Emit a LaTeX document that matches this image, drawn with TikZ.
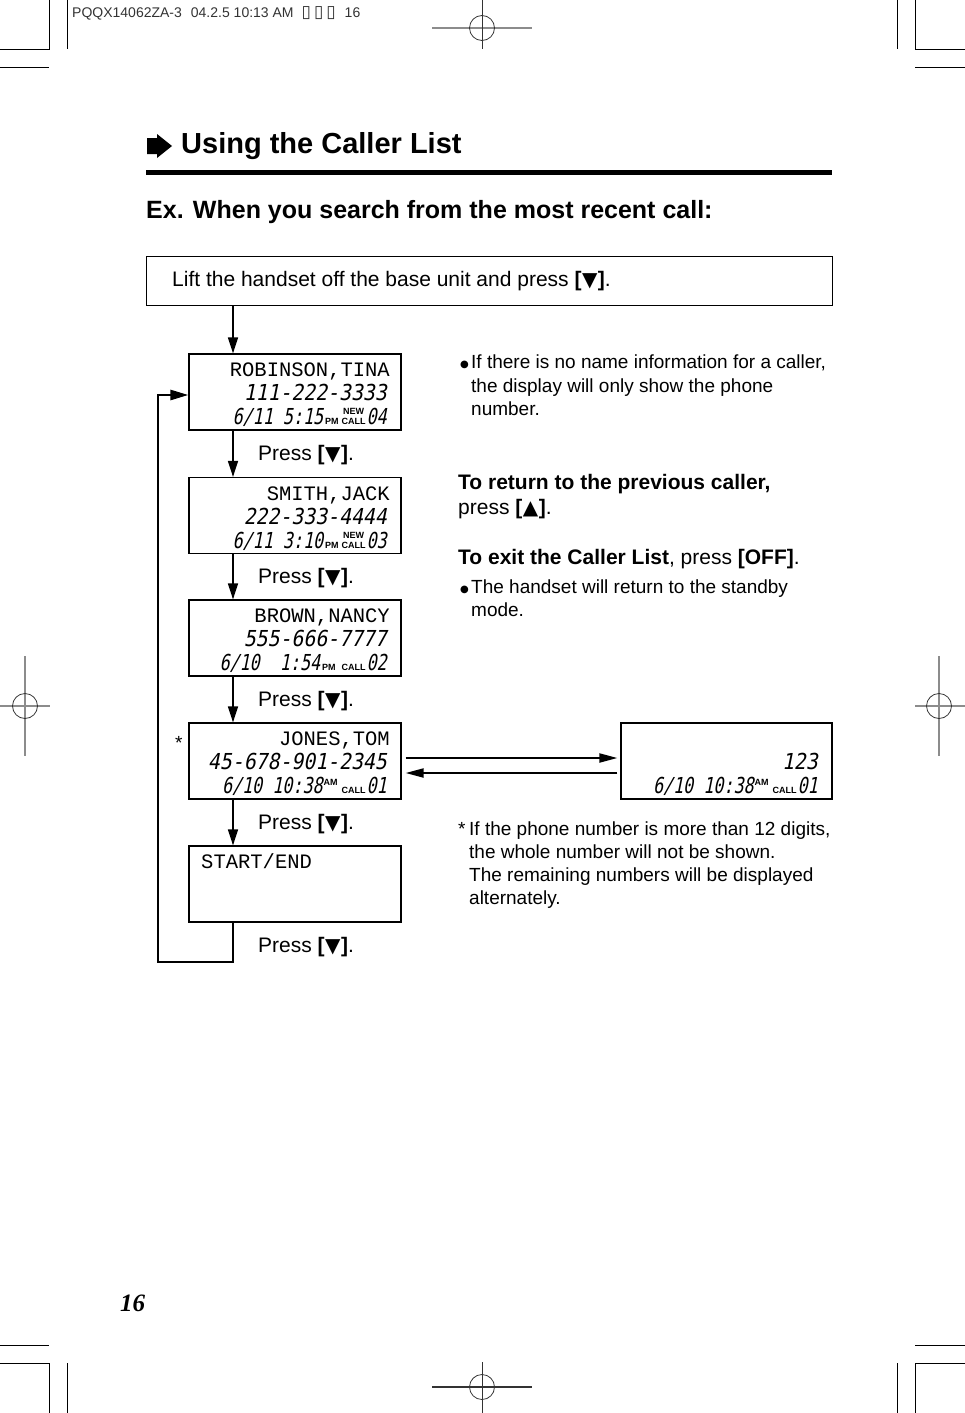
\documentclass[tikz,border=0pt]{standalone}
\usepackage{fontspec}
\setmainfont{Liberation Sans}
\newfontfamily\lcdmono{Liberation Mono}
\newfontfamily\segfont[FakeStretch=0.9,FakeSlant=0.2]{DejaVu Sans Mono}
\newfontfamily\segfontc[FakeStretch=0.76,FakeSlant=0.2]{DejaVu Sans Mono}
\newfontfamily\symfont{DejaVu Sans}
\newfontfamily\pnfont{Liberation Serif}
\usetikzlibrary{arrows.meta}
\newcommand\kdn{\textbf{[}\hspace{0.5pt}{\symfont\fontsize{20}{20}\selectfont\raisebox{-0.5pt}{▼}}\hspace{0.5pt}\textbf{]}}
\newcommand\kup{\textbf{[}\hspace{0.5pt}{\symfont\fontsize{20}{20}\selectfont\raisebox{-0.5pt}{▲}}\hspace{0.5pt}\textbf{]}}
\newcommand\segtxt[1]{{\segfont\fontsize{22}{22}\selectfont #1}}
\newcommand\segc[1]{{\segfontc\fontsize{22}{22}\selectfont #1}}
\newcommand\tlab[1]{{\bfseries\fontsize{9}{9}\selectfont #1}}
\newcommand\nwcall{\shortstack{\tlab{NEW}\\\tlab{CALL}}}
\newcommand\bul{{\symfont\fontsize{10}{10}\selectfont\raisebox{1pt}{●}}}
\begin{document}
\begin{tikzpicture}[x=1pt,y=-1pt,
 crop/.style={line width=0.8pt},
 regl/.style={line width=1.3pt, black!45},
 regd/.style={line width=0.8pt, black!80},
 lcd/.style={draw, line width=1.2pt, minimum width=212pt, minimum height=76pt, inner sep=0pt},
 tx/.style={inner sep=0pt, anchor=base west},
 body/.style={tx, font=\fontsize{19}{23}\selectfont},
 big/.style={tx, font=\fontsize{21}{25}\selectfont},
 bigb/.style={tx, font=\bfseries\fontsize{21}{25}\selectfont},
 nm/.style={inner sep=0pt, anchor=base east, font=\lcdmono\fontsize{20.5}{20.5}\selectfont},
 nmw/.style={inner sep=0pt, anchor=base west, font=\lcdmono\fontsize{20.5}{20.5}\selectfont},
 sg/.style={inner sep=0pt, anchor=base east},
 arr/.style={line width=1.5pt, -{Triangle[length=16pt,width=10pt]}},
 harr/.style={line width=2pt, -{Triangle[length=18pt,width=9pt]}},
 loopl/.style={line width=2.6pt, -{Triangle[length=18pt,width=10pt]}},
]
\useasboundingbox (0,0) rectangle (965,1413);

% crop marks
\draw[crop] (49,0) -- (49,49) -- (0,49);
\draw[crop] (67,0) -- (67,49);
\draw[crop] (0,67) -- (49,67);
\draw[crop] (915,0) -- (915,49) -- (965,49);
\draw[crop] (897,0) -- (897,49);
\draw[crop] (915,67) -- (965,67);
\draw[crop] (0,1363) -- (49,1363) -- (49,1413);
\draw[crop] (67,1363) -- (67,1413);
\draw[crop] (0,1345) -- (49,1345);
\draw[crop] (965,1363) -- (915,1363) -- (915,1413);
\draw[crop] (897,1363) -- (897,1413);
\draw[crop] (915,1345) -- (965,1345);

% registration marks
\draw[regl] (432,28) -- (532,28);
\draw[regd] (482,0) -- (482,49);
\draw[regd] (482,28) circle (12.5);
\draw[regl] (25,656) -- (25,756);
\draw[regl] (0,706) -- (50,706);
\draw[regd] (25,706) circle (12.5);
\draw[regl] (939,656) -- (939,756);
\draw[regl] (915,706) -- (965,706);
\draw[regd] (939,706) circle (12.5);
\draw[regd, line width=1.1pt] (432,1387) -- (532,1387);
\draw[regd] (482,1362) -- (482,1413);
\draw[regd] (482,1387) circle (12.5);

% header
\node[tx, font=\fontsize{14}{14}\selectfont, text=black!80] (hdr) at (72,18)
  {PQQX14062ZA-3\hspace{9pt}04.2.5 10:13 AM\hspace{8pt}{\symfont\fontsize{17}{17}\selectfont ▯\hspace{3pt}▯\hspace{3pt}▯}\hspace{9pt}16};

% title
\fill (147,138) -- (157,138) -- (157,134) -- (172,146) -- (157,158) -- (157,154) -- (147,154) -- cycle;
\node[tx, font=\bfseries\fontsize{29}{29}\selectfont] (title) at (181,153) {Using the Caller List};
\fill (146,170) rectangle (832,175);
\node[tx, font=\bfseries\fontsize{25}{25}\selectfont] (ex) at (146,218) {Ex. When you search from the most recent call:};

% top box
\node[draw, line width=1.2pt, anchor=north west, minimum width=686pt, minimum height=49pt, inner sep=0pt] (top) at (146,256) {};
\node[big] (toptx) at (172,286) {Lift the handset off the base unit and press \kdn.};

% LCD boxes
\node[lcd] (b1) at (295,392) {};
\node[lcd] (b2) at (295,515.5) {};
\node[lcd] (b3) at (295,638) {};
\node[lcd] (b4) at (295,761) {};
\node[lcd] (b5) at (295,884) {};
\node[lcd, minimum width=211pt] (br) at (726.5,761) {};

\node[nm] (b1n) at (390,376) {ROBINSON,TINA};
\node[sg] (b1d) at (387,400) {\segtxt{111-222-3333}};
\node[sg] (b1t) at (387,424) {\segc{6/11 5:15}\hspace{2pt}\tlab{PM}\hspace{3pt}\nwcall\hspace{1pt}\segc{04}};

\node[nm] (b2n) at (390,500) {SMITH,JACK};
\node[sg] (b2d) at (387,524) {\segtxt{222-333-4444}};
\node[sg] (b2t) at (387,548) {\segc{6/11 3:10}\hspace{2pt}\tlab{PM}\hspace{3pt}\nwcall\hspace{1pt}\segc{03}};

\node[nm] (b3n) at (390,622) {BROWN,NANCY};
\node[sg] (b3d) at (387,646) {\segtxt{555-666-7777}};
\node[sg] (b3t) at (387,670) {\segc{6/10\ \ 1:54}\hspace{2pt}\tlab{PM}\hspace{6pt}\tlab{CALL}\hspace{1pt}\segc{02}};

\node[nm] (b4n) at (390,745) {JONES,TOM};
\node[sg] (b4d) at (387,769) {\segtxt{45-678-901-2345}};
\node[sg] (b4t) at (387,793) {\segc{6/10 10:38}\hspace{1pt}\raisebox{8pt}{\tlab{AM}}\hspace{4pt}\tlab{CALL}\hspace{1pt}\segc{01}};

\node[nmw] (b5n) at (201,868) {START/END};

\node[sg] (brd) at (818,769) {\segtxt{123}};
\node[sg] (brt) at (818,793) {\segc{6/10 10:38}\hspace{1pt}\raisebox{8pt}{\tlab{AM}}\hspace{4pt}\tlab{CALL}\hspace{1pt}\segc{01}};

\node[tx, font=\fontsize{19}{19}\selectfont] (ast) at (175,749) {*};

% Press labels
\node[big] (p1) at (258,460) {Press \kdn.};
\node[big] (p2) at (258,583) {Press \kdn.};
\node[big] (p3) at (258,706) {Press \kdn.};
\node[big] (p4) at (258,829) {Press \kdn.};
\node[big] (p5) at (258,952) {Press \kdn.};

% connectors
\coordinate (col) at (233,0);
\draw[arr] (top.south -| col) -- (b1.north -| col);
\draw[arr] (b1.south -| col) -- (b2.north -| col);
\draw[arr] (b2.south -| col) -- (b3.north -| col);
\draw[arr] (b3.south -| col) -- (b4.north -| col);
\draw[arr] (b4.south -| col) -- (b5.north -| col);
\coordinate (lA) at (158,962);
\coordinate (lB) at (158,395);
\draw[loopl] (b5.south -| col) |- (lA) -- (lB) -- (b1.west |- lB);
\coordinate (h1) at (0,758);
\coordinate (h2) at (0,773);
\draw[harr, shorten <=4pt, shorten >=3pt] (b4.east |- h1) -- (br.west |- h1);
\draw[harr, shorten <=3pt, shorten >=4pt] (br.west |- h2) -- (b4.east |- h2);

% right texts
\node[tx] (bu1) at (460,368) {\bul};
\node[body] (n1a) at (471,368) {If there is no name information for a caller,};
\node[body] (n1b) at (471,392) {the display will only show the phone};
\node[body] (n1c) at (471,415) {number.};
\node[bigb] (r1) at (458,489) {To return to the previous caller,};
\node[big] (r2) at (458,514) {press \kup.};
\node[big] (x1) at (458,564) {\textbf{To exit the Caller List}, press \textbf{[OFF]}.};
\node[tx] (bu2) at (460,593) {\bul};
\node[body] (x2) at (471,593) {The handset will return to the standby};
\node[body] (x3) at (471,616) {mode.};
\node[body] (s0) at (458,835) {*};
\node[body] (s1) at (469,835) {If the phone number is more than 12 digits,};
\node[body] (s2) at (469,858) {the whole number will not be shown.};
\node[body] (s3) at (469,881) {The remaining numbers will be displayed};
\node[body] (s4) at (469,904) {alternately.};

% page number
\node[tx, font=\pnfont\bfseries\itshape\fontsize{25}{25}\selectfont] (pg) at (120,1311) {16};
\end{tikzpicture}
\end{document}
